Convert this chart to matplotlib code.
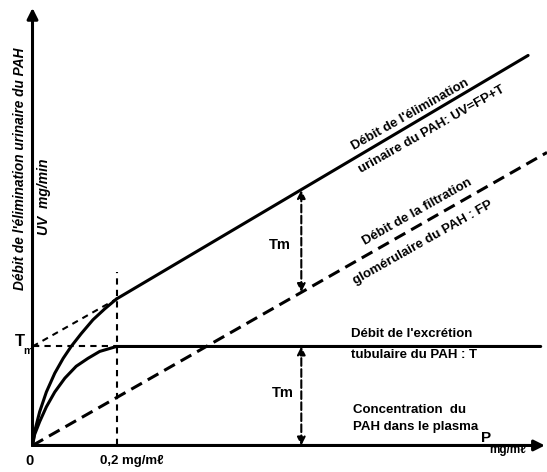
"""
plot.py
---
Schéma de l'élimination urinaire du PAH (UV = FP + T).
"""

import matplotlib
matplotlib.use("Agg")
import matplotlib.pyplot as plt

# Données (x: P en mg/ml, y: débit en unités de Tm)
p_uv_curve = [0, 0.005, 0.017, 0.033, 0.053, 0.073, 0.092, 0.116, 0.144, 0.172, 0.2]
uv_curve = [0, 0.14, 0.34, 0.54, 0.73, 0.88, 1.0, 1.13, 1.27, 1.38, 1.48]
p_uv_line = [0.2, 1.18]
uv_line = [1.48, 3.94]

p_t_curve = [0, 0.005, 0.017, 0.033, 0.053, 0.077, 0.104, 0.132, 0.16, 0.184, 0.2, 1.21]
t_curve = [0, 0.11, 0.24, 0.39, 0.54, 0.68, 0.80, 0.88, 0.95, 0.98, 1.0, 1.0]

p_fp = [0, 1.225]
fp = [0, 2.96]

p_ext = [0, 0.2]
uv_ext = [1.0, 1.48]

p_knee = 0.2
tm = 1.0
p_tm_arrow = 0.64
tm_upper = [1.55, 2.58]

FONT = ['Liberation Sans', 'DejaVu Sans']


def main():
    fig = plt.figure(figsize=(5.47, 4.72), dpi=100)
    ax = fig.add_axes([0, 0, 1, 1])
    ax.axis('off')
    ax.set_xlim(-0.0774, 1.225)
    ax.set_ylim(-0.268, 4.5)

    # Axes avec flèches
    head = dict(arrowstyle='-|>', lw=2.2, color='k', mutation_scale=16,
                shrinkA=0, shrinkB=0)
    ax.annotate('', xy=(0, 4.42), xytext=(0, 0), arrowprops=head)
    ax.annotate('', xy=(1.22, 0), xytext=(0, 0), arrowprops=head)

    # Courbes
    ax.plot(p_uv_curve, uv_curve, color='k', lw=2.2, solid_capstyle='round')
    ax.plot(p_uv_line, uv_line, color='k', lw=2.2, solid_capstyle='round')
    ax.plot(p_t_curve, t_curve, color='k', lw=2.2, solid_capstyle='round')
    ax.plot(p_fp, fp, color='k', lw=2.2, dashes=(4, 2.2))

    # Lignes de construction
    ax.plot(p_ext, uv_ext, color='k', lw=1.5, dashes=(3, 2.5))
    ax.plot([0, p_knee], [tm, tm], color='k', lw=1.5, dashes=(3, 2.5))
    ax.plot([p_knee, p_knee], [0, 1.75], color='k', lw=1.5, dashes=(3, 2.5))

    # Flèches Tm
    arr = dict(arrowstyle='<|-|>', lw=1.5, ls='--', color='k',
               mutation_scale=12, shrinkA=0, shrinkB=0)
    ax.annotate('', xy=(p_tm_arrow, tm_upper[1]), xytext=(p_tm_arrow, tm_upper[0]),
                arrowprops=arr)
    ax.annotate('', xy=(p_tm_arrow, tm), xytext=(p_tm_arrow, 0), arrowprops=arr)

    txt = dict(family=FONT, fontweight='bold', color='k')
    ax.text(0.59, 2.03, 'Tm', fontsize=10.5, ha='center', va='center', **txt)
    ax.text(0.596, 0.53, 'Tm', fontsize=10.5, ha='center', va='center', **txt)

    # Axe y
    ax.text(-0.0298, 2.8, "Débit de l'élimination urinaire du PAH", rotation=90,
            fontsize=9.8, ha='center', va='center', style='italic', **txt)
    ax.text(0.027, 2.51, 'UV  mg/min', rotation=90, fontsize=10,
            ha='center', va='center', style='italic', **txt)
    ax.text(-0.031, 1.05, 'T', fontsize=12, ha='center', va='center', **txt)
    ax.text(-0.012, 0.95, 'm', fontsize=7.5, ha='center', va='center', **txt)

    # Axe x
    ax.text(-0.006, -0.16, '0', fontsize=10.5, ha='center', va='center', **txt)
    ax.text(0.161, -0.16, '0,2 mg/mℓ', fontsize=9.5, ha='left', va='center', **txt)
    ax.text(1.08, 0.08, 'P', fontsize=11, ha='center', va='center', **txt)
    ax.text(1.132, -0.05, 'mg/mℓ', fontsize=8.5, ha='center', va='center', **txt)

    # Annotations des droites
    ax.text(0.763, 0.36, 'Concentration  du', fontsize=9.5, ha='left', va='center', **txt)
    ax.text(0.763, 0.19, 'PAH dans le plasma', fontsize=9.5, ha='left', va='center', **txt)
    ax.text(0.758, 1.13, "Débit de l'excrétion", fontsize=9.5, ha='left', va='center', **txt)
    ax.text(0.758, 0.91, 'tubulaire du PAH : T', fontsize=9.5, ha='left', va='center', **txt)

    ax.text(0.899, 3.34, "Débit de l'élimination", fontsize=9.5, rotation=29.5,
            ha='center', va='center', rotation_mode='anchor', **txt)
    ax.text(0.951, 3.19, 'urinaire du PAH: UV=FP+T', fontsize=9.5, rotation=29.5,
            ha='center', va='center', rotation_mode='anchor', **txt)
    ax.text(0.916, 2.36, 'Débit de la filtration', fontsize=9.5, rotation=29.5,
            ha='center', va='center', rotation_mode='anchor', **txt)
    ax.text(0.930, 2.05, 'glomérulaire du PAH : FP', fontsize=9.5, rotation=29.5,
            ha='center', va='center', rotation_mode='anchor', **txt)

    fig.savefig('out.png', dpi=100, facecolor='white')


if __name__ == "__main__":
    main()
